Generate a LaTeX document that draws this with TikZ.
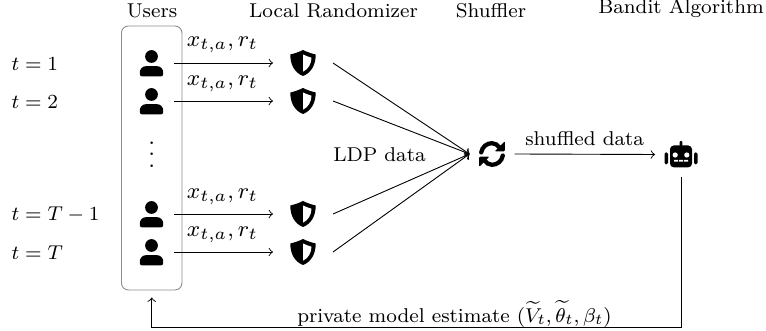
\documentclass[tikz,border=0pt]{standalone}
\usetikzlibrary{arrows.meta}
\tikzset{
  every node/.style={font=\footnotesize},
  conn/.style={->,line width=0.36pt},
  usericon/.style={inner sep=0pt,outer sep=0pt,minimum width=45*0.4pt,minimum height=26*0.4pt},
  shieldicon/.style={inner sep=0pt,outer sep=0pt,minimum width=60*0.4pt,minimum height=26*0.4pt},
  lbl/.style={inner sep=0pt,anchor=center},
  msg/.style={inner sep=0pt,anchor=center,scale=1.12},
  user/.pic={
    \fill (0,-6.5) circle (6.4);
    \fill (-9.7,13.3) .. controls (-11,13.3) and (-11.7,12.3) .. (-11.7,11) -- (-11.7,9.5) .. controls (-11.7,6) and (-9,3.2) .. (-5.5,3.2) -- (5.5,3.2) .. controls (9,3.2) and (11.7,6) .. (11.7,9.5) -- (11.7,11) .. controls (11.7,12.3) and (11,13.3) .. (9.7,13.3) -- cycle;
  },
  shield/.pic={
    \fill (0,-13) .. controls (3,-11.5) and (8,-9.5) .. (12.7,-8.5) .. controls (12.7,1) and (9,9.5) .. (0,13) .. controls (-9,9.5) and (-12.7,1) .. (-12.7,-8.5) .. controls (-8,-9.5) and (-3,-11.5) .. (0,-13) -- cycle;
    \fill[white] (0,-8.5) .. controls (2.5,-7.5) and (5.5,-6) .. (8.5,-5.3) .. controls (8.2,1) and (5.5,6) .. (0,8.7) -- cycle;
  },
  refreshicon/.pic={
    \foreach \a in {0,180}{
      \begin{scope}[rotate=\a]
        \draw[line width=1.7pt,line cap=round] (-10.8,-1.5) .. controls (-9.8,-7.5) and (-5,-10.8) .. (0,-10.8) .. controls (3,-10.8) and (6,-9) .. (7.5,-6.5);
        \fill[rounded corners=0.4pt] (12.8,-12.8) -- (12.8,-2.6) -- (2.6,-2.6) -- cycle;
      \end{scope}
    }
  },
  roboticon/.pic={
    \fill[rounded corners=1.5pt] (-11,-9) rectangle (11,12.8);
    \fill[rounded corners=0.6pt] (-16.5,-2.2) rectangle (-13,9.8);
    \fill[rounded corners=0.6pt] (13,-2.2) rectangle (16.5,9.8);
    \fill[rounded corners=0.4pt] (-1.4,-13.5) rectangle (1.4,-8);
    \fill[white] (-5.8,0.5) circle (2.6) (5.8,0.5) circle (2.6);
    \fill[white] (-7,5.4) rectangle (-3,7.2) (-2,5.4) rectangle (2,7.2) (3,5.4) rectangle (7,7.2);
  }
}
\begin{document}
\begin{tikzpicture}[x=0.4pt,y=-0.4pt,>=to]
\useasboundingbox (0,0) rectangle (766,331);

% column titles
\node[lbl] (tusers) at (152,10.5) {Users};
\node[lbl] (tlocal) at (333.5,11) {Local Randomizer};
\node[lbl] (tshuf) at (491,10.5) {Shuffler};
\node[lbl] (tbandit) at (681,8.5) {Bandit Algorithm};

% users box
\node[draw=black!45,line width=0.36pt,rounded corners=2.8pt,minimum width=60.5*0.4pt,minimum height=264*0.4pt,inner sep=0pt] (box) at (151.7,158) {};

% time labels
\node[anchor=west,inner sep=0pt] (l1) at (11,64) {$t=1$};
\node[anchor=west,inner sep=0pt] (l2) at (11,102) {$t=2$};
\node[anchor=west,inner sep=0pt] (l3) at (11,215) {$t=T-1$};
\node[anchor=west,inner sep=0pt] (l4) at (11,253) {$t=T$};

% users
\foreach \n/\y in {1/63,2/101,3/214,4/252}{
  \node[usericon] (u\n) at (151.5,\y) {};
  \pic at (u\n) {user};
  \node[shieldicon] (s\n) at (303,\y) {};
  \pic at (s\n) {shield};
  \draw[conn] (u\n.east) -- (s\n.west);
}
\node[lbl,scale=1.15] (dots) at (151.7,146) {$\vdots$};

% message labels
\node[msg] (m1) at (222.5,45) {$x_{t,a},r_t$};
\node[msg] (m2) at (222.5,83.5) {$x_{t,a},r_t$};
\node[msg] (m3) at (222.5,196.5) {$x_{t,a},r_t$};
\node[msg] (m4) at (222.5,234.5) {$x_{t,a},r_t$};

% shuffler
\node[inner sep=0pt,outer sep=0pt,minimum width=45*0.4pt,minimum height=26*0.4pt] (shuf) at (492,154) {};
\pic at (shuf) {refreshicon};
\foreach \n in {1,...,4}{
  \draw[conn] (s\n.east) -- (shuf.west);
}
\node[lbl] (ldp) at (379.5,155) {LDP data};

% bandit
\node[inner sep=0pt,outer sep=0pt,minimum width=52*0.4pt,minimum height=45*0.4pt] (rob) at (681,154.5) {};
\pic at (rob) {roboticon};
\draw[conn] (shuf.east) -- (rob.west);
\node[lbl] (sd) at (584.7,139) {shuffled data};

% feedback
\coordinate (fb1) at (681,327.7);
\coordinate (fb2) at (151.7,327.7);
\coordinate (fb3) at (151.7,297.5);
\draw[conn] (rob.south) -- (fb1) -- (fb2) -- (fb3);
\node[lbl] (pm) at (454.5,314) {private model estimate $(\widetilde{V}_t,\widetilde{\theta}_t,\beta_t)$};
\end{tikzpicture}
\end{document}
